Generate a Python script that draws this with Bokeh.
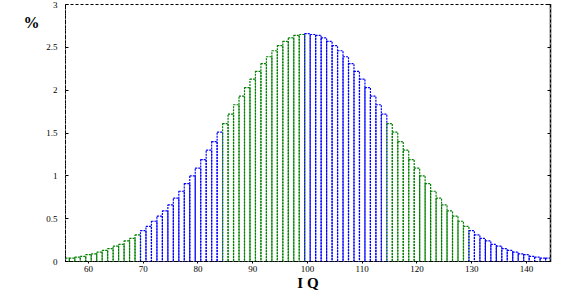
from bokeh.plotting import figure
from bokeh.models import Range1d, FixedTicker, LinearAxis, ColumnDataSource
from bokeh.embed import file_html
from bokeh.resources import INLINE

# IQ scores (bar centres) and the share of people at each score, in %
iq = list(range(56, 145))
half = [0.04, 0.04, 0.05, 0.06, 0.08, 0.09, 0.11, 0.13, 0.15, 0.18, 0.20, 0.24,
        0.27, 0.31, 0.36, 0.41, 0.47, 0.53, 0.59, 0.66, 0.74, 0.82, 0.91, 1.00,
        1.09, 1.19, 1.30, 1.40, 1.51, 1.61, 1.72, 1.83, 1.93, 2.03, 2.13, 2.22,
        2.31, 2.39, 2.46, 2.52, 2.57, 2.61, 2.64, 2.65]
pct = half + [2.66] + half[::-1]
# band colour of each bar
band_colors = []
for v in iq:
    if v < 70:
        band_colors.append("green")
    elif v < 85:
        band_colors.append("blue")
    elif v < 100:
        band_colors.append("green")
    elif v < 115:
        band_colors.append("blue")
    elif v < 130:
        band_colors.append("green")
    else:
        band_colors.append("blue")

x_ticks = [60, 70, 80, 90, 100, 110, 120, 130, 140]
y_ticks = [0, 0.5, 1, 1.5, 2, 2.5, 3]
y_tick_labels = ["0", "0.5", "1", "1.5", "2", "2.5", "3"]
unit_label = "%"
unit_label_y = 2.79

src = ColumnDataSource(dict(x=iq, top=pct, color=band_colors))

p = figure(width=564, height=293, output_backend="svg", toolbar_location=None,
           x_range=Range1d(55.8, 144.4), y_range=Range1d(0, 3),
           min_border_left=65, min_border_right=14, min_border_top=4, min_border_bottom=31)
p.background_fill_color = "white"
p.border_fill_color = "white"
p.grid.visible = False
p.outline_line_color = "black"
p.outline_line_dash = "3 2"
p.outline_line_width = 1

p.vbar(x="x", top="top", width=1, bottom=0, source=src,
       fill_color=None, line_color="color", line_dash="2 1", line_width=1.2)

serif = "Liberation Serif"

xa = p.xaxis[0]
xa.ticker = FixedTicker(ticks=x_ticks)
xa.major_label_overrides = {t: str(t) for t in x_ticks}
xa.major_tick_out = 2
xa.major_tick_in = 0
xa.minor_tick_out = 0
xa.minor_tick_in = 0
xa.axis_line_dash = "2 1"
xa.axis_line_color = "black"
xa.major_tick_line_color = "black"
xa.major_label_text_color = "black"
xa.major_label_text_font = serif
xa.major_label_text_font_size = "9px"
xa.major_label_standoff = 2
xa.axis_label = "I Q"
xa.axis_label_text_color = "black"
xa.axis_label_text_font = serif
xa.axis_label_text_font_style = "bold"
xa.axis_label_text_font_size = "15px"
xa.axis_label_standoff = 0

ya = p.yaxis[0]
ya.ticker = FixedTicker(ticks=y_ticks)
ya.major_label_overrides = {t: l for t, l in zip(y_ticks, y_tick_labels)}
ya.major_tick_in = 3
ya.major_tick_out = 0
ya.minor_tick_in = 0
ya.minor_tick_out = 0
ya.axis_line_dash = "2 1"
ya.axis_line_color = "black"
ya.major_tick_line_color = "black"
ya.major_label_text_color = "black"
ya.major_label_text_font = serif
ya.major_label_text_font_size = "9px"
ya.major_label_standoff = 8

# second left axis carrying only the "%" unit label near the top
ua = LinearAxis(ticker=FixedTicker(ticks=[unit_label_y]),
                major_label_overrides={unit_label_y: unit_label},
                major_label_text_font=serif, major_label_text_font_style="bold",
                major_label_text_font_size="16px", major_label_text_color="black",
                major_label_standoff=4,
                major_tick_in=0, major_tick_out=0, minor_tick_in=0, minor_tick_out=0,
                axis_line_color=None, major_tick_line_color=None)
p.add_layout(ua, "left")

ra = LinearAxis(ticker=FixedTicker(ticks=y_ticks),
                major_label_overrides={t: "" for t in y_ticks},
                major_tick_in=3, major_tick_out=0, minor_tick_in=0, minor_tick_out=0,
                axis_line_dash="1 1", axis_line_width=2, axis_line_color="black",
                major_tick_line_color="black")
p.add_layout(ra, "right")

open("out.html", "w").write(file_html(p, INLINE))
